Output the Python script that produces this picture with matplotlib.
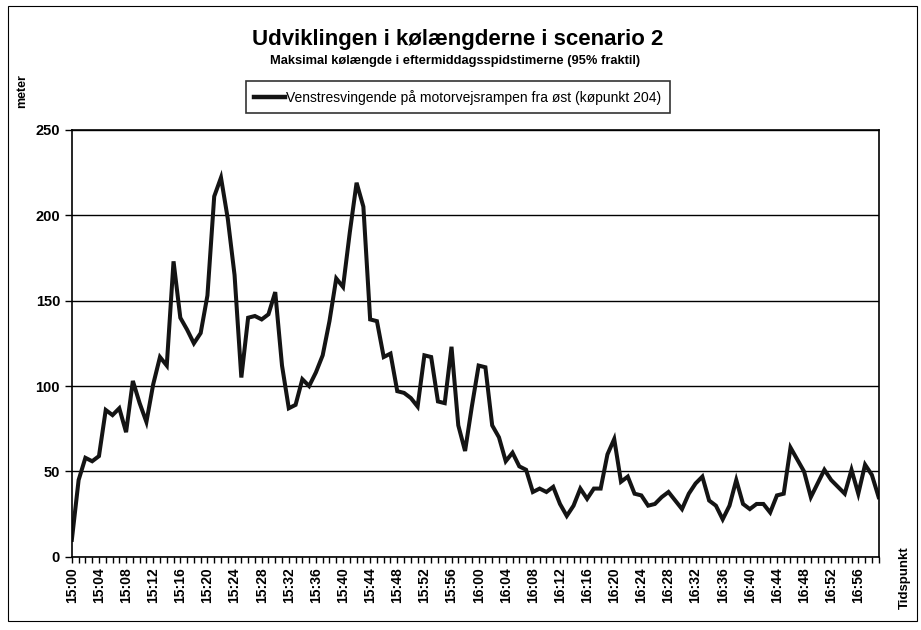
import numpy as np
import matplotlib.pyplot as plt
from matplotlib.lines import Line2D
from matplotlib.patches import Rectangle

plt.rcParams['font.family'] = ['Liberation Sans', 'DejaVu Sans']

# one value per minute, 15:00 .. 16:59
koe_204 = [10, 45, 58, 56, 59, 86, 83, 87, 73, 103,
           90, 79, 101, 117, 112, 173, 140, 133, 125, 131,
           153, 211, 222, 198, 165, 105, 140, 141, 139, 142,
           155, 112, 87, 89, 104, 100, 108, 118, 138, 163,
           158, 190, 219, 205, 139, 138, 117, 119, 97, 96,
           93, 88, 118, 117, 91, 90, 123, 77, 62, 88,
           112, 111, 77, 70, 56, 61, 53, 51, 38, 40,
           38, 41, 31, 24, 30, 40, 34, 40, 40, 60,
           69, 44, 47, 37, 36, 30, 31, 35, 38, 33,
           28, 37, 43, 47, 33, 30, 22, 30, 45, 31,
           28, 31, 31, 26, 36, 37, 64, 57, 50, 35,
           43, 51, 45, 41, 37, 51, 37, 54, 48, 35]
minutes = np.arange(len(koe_204))
time_labels = ['%d:%02d' % (15 + m // 60, m % 60) for m in range(0, 120, 4)]

fig = plt.figure(figsize=(9.21, 6.3), dpi=100)
ax = fig.add_axes([0.078, 0.116, 0.876, 0.678])

ax.plot(minutes, koe_204, color='#141414', lw=2.9, solid_joinstyle='miter')

ax.set_xlim(0, 119)
ax.set_ylim(0, 250)
ax.set_yticks(range(0, 251, 50))
ax.set_xticks(range(0, 120, 4))
ax.set_xticklabels(time_labels, rotation=90, fontsize=10, fontweight='bold')
ax.set_xticks(minutes, minor=True)
ax.tick_params(axis='x', which='both', length=4, width=1, direction='out')
ax.tick_params(axis='y', length=5, width=1, labelsize=10.5)
for lab in ax.get_yticklabels():
    lab.set_fontweight('bold')
ax.yaxis.grid(True, color='black', lw=1)
for s in ax.spines.values():
    s.set_linewidth(1.2)

fig.text(0.497, 0.938, 'Udviklingen i kølængderne i scenario 2',
         ha='center', va='center', fontsize=16, fontweight='bold')
fig.text(0.494, 0.903, 'Maksimal kølængde i eftermiddagsspidstimerne (95% fraktil)',
         ha='center', va='center', fontsize=9.3, fontweight='bold')
fig.text(0.024, 0.855, 'meter', rotation=90, ha='center', va='center',
         fontsize=9, fontweight='bold')
fig.text(0.983, 0.083, 'Tidspunkt', rotation=90, ha='center', va='center',
         fontsize=9.5, fontweight='bold')

handle = Line2D([], [], color='#141414', lw=3.2)
leg = fig.legend([handle], ['Venstresvingende på motorvejsrampen fra øst (køpunkt 204)'],
                 loc='center', bbox_to_anchor=(0.497, 0.846), fontsize=10,
                 frameon=True, fancybox=False, edgecolor='black',
                 handlelength=2.2, handletextpad=0.1, borderpad=0.6)
leg.get_frame().set_linewidth(1.2)

fig.add_artist(Rectangle((0.009, 0.015), 0.987, 0.975, transform=fig.transFigure,
                         fill=False, edgecolor='black', lw=0.8))

fig.savefig('out.png', dpi=100)
